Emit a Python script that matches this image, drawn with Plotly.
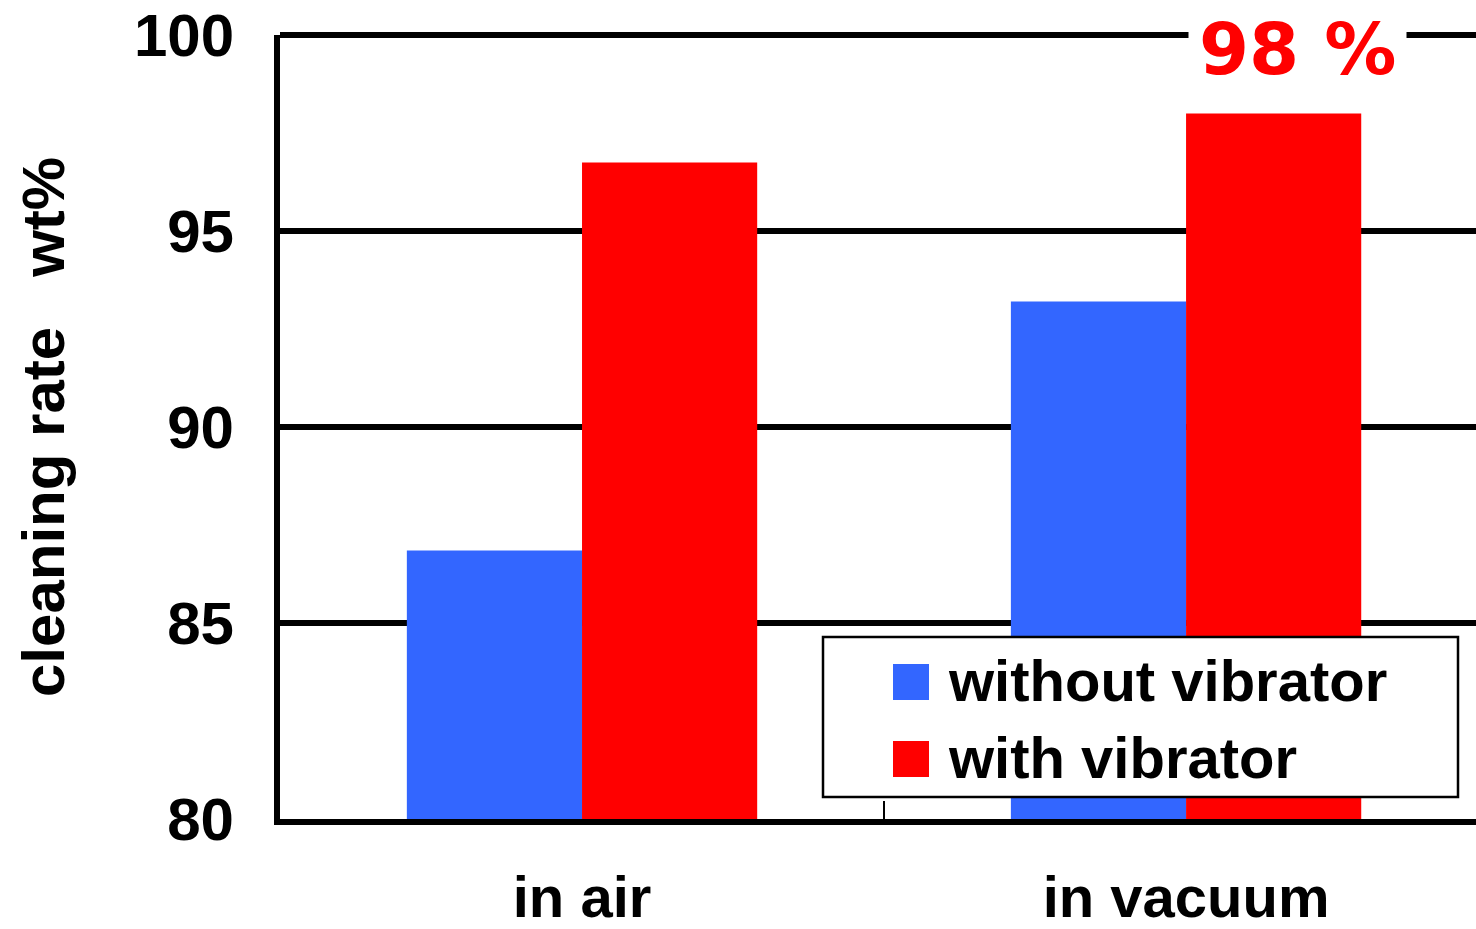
import plotly.graph_objects as go

# Cleaning rate (wt%) by environment, with and without the vibrator
categories = ["in air", "in vacuum"]
series_names = ["without vibrator", "with vibrator"]
without_vibrator = [86.85, 93.2]
with_vibrator = [96.75, 98.0]
series_colors = ["#3366FF", "#FF0000"]
y_ticks = [80, 85, 90, 95, 100]

FONT = "Liberation Sans, Arial, sans-serif"
W, H = 1476, 929
ML, MR, MT, MB = 280, 0, 35, 110
PW, PH = W - ML - MR, H - MT - MB

x_pos = list(range(len(categories)))

fig = go.Figure()
for name, vals, col in zip(series_names, [without_vibrator, with_vibrator], series_colors):
    fig.add_trace(go.Bar(x=x_pos, y=vals, name=name, marker=dict(color=col, line=dict(width=0)),
                         showlegend=False))


def px_x(p):
    return (p - ML) / PW


def px_y(p):
    return (H - MB - p) / PH


# top frame line along the upper edge of the plot
shapes = [dict(type="line", xref="paper", yref="paper", x0=0, x1=1, y0=1, y1=1,
               line=dict(color="black", width=6), layer="below")]

# hand-drawn legend box with large swatches
shapes.append(dict(type="rect", xref="paper", yref="paper",
                   x0=px_x(823), x1=px_x(1458), y0=px_y(797), y1=px_y(637),
                   line=dict(color="black", width=2.5), fillcolor="white", layer="above"))
annotations = []
for i, (name, col) in enumerate(zip(series_names, series_colors)):
    cy = 682 + i * 77
    shapes.append(dict(type="rect", xref="paper", yref="paper",
                       x0=px_x(893), x1=px_x(929), y0=px_y(cy + 18), y1=px_y(cy - 18),
                       line=dict(width=0), fillcolor=col, layer="above"))
    annotations.append(dict(text=name, xref="paper", yref="paper", x=px_x(946), y=px_y(cy - 2),
                            xanchor="left", yanchor="middle", showarrow=False,
                            font=dict(family=FONT, size=58, color="black", weight="bold")))

# value label for the best result
annotations.append(dict(text=f"{with_vibrator[1]:.0f} %", x=1.185, y=100, xref="x", yref="y",
                        xanchor="center", yanchor="middle", yshift=-14, showarrow=False,
                        bgcolor="white", borderpad=10,
                        font=dict(family="DejaVu Sans, sans-serif", size=72, color="#FF0000",
                                  weight="bold")))

# y-axis title
annotations.append(dict(text="cleaning rate\u00a0\u00a0\u00a0wt%", xref="paper", yref="paper",
                        x=px_x(43), y=0.5, xanchor="center", yanchor="middle", textangle=-90,
                        showarrow=False,
                        font=dict(family=FONT, size=60, color="black", weight="bold")))

fig.update_layout(
    width=W, height=H,
    margin=dict(l=ML, r=MR, t=MT, b=MB, pad=0, autoexpand=False),
    plot_bgcolor="white", paper_bgcolor="white",
    barmode="group", bargap=0.42, bargroupgap=0,
    shapes=shapes, annotations=annotations,
    showlegend=False,
)
fig.update_xaxes(
    range=[-0.5, 1.48], tickmode="array", tickvals=x_pos, ticktext=categories,
    showgrid=False, zeroline=False, showline=True, linecolor="black", linewidth=6,
    ticks="", ticklabelstandoff=22, automargin=False,
    tickfont=dict(family=FONT, size=58, color="black", weight="bold"),
    minor=dict(tickmode="array", tickvals=[0.5], ticks="inside", ticklen=18, tickwidth=2,
               tickcolor="black", showgrid=False),
)
fig.update_yaxes(
    range=[80, 100], tickmode="array", tickvals=y_ticks,
    showgrid=True, gridcolor="black", gridwidth=5.5, zeroline=False,
    showline=True, linecolor="black", linewidth=6,
    ticks="", ticklabelstandoff=28, automargin=False,
    tickfont=dict(family=FONT, size=60, color="black", weight="bold"),
)

fig.write_html("out.html")
